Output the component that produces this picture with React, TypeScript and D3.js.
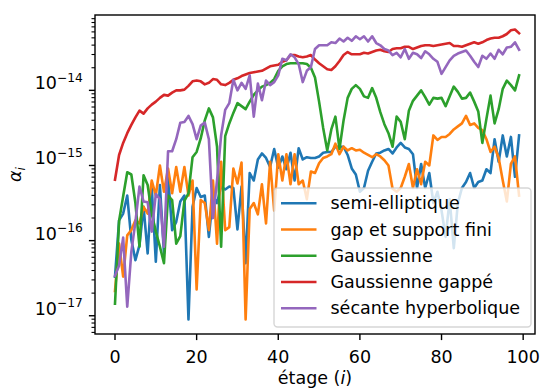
import React from 'react';
import * as d3 from 'd3';

// log10 of alpha_i for each stage i = 0..99
const semiElliptiqueLog10 = [
  -16.48, -15.73, -15.64, -15.40, -15.99, -16.26, -16.06, -15.55, -16.17, -15.29,
  -16.28, -15.26, -16.17, -15.15, -15.86, -15.75, -15.48, -15.40, -17.05, -15.55,
  -15.30, -15.42, -15.40, -15.95, -15.40, -15.50, -15.28, -15.32, -15.28, -15.30,
  -15.85, -15.28, -16.30, -15.10, -15.20, -14.92, -14.84, -14.90, -15.02, -14.78,
  -15.03, -14.88, -15.05, -14.83, -15.20, -14.77, -14.92, -14.89, -14.90, -14.90,
  -14.88, -14.83, -14.82, -14.82, -14.75, -14.75, -14.75, -14.86, -15.04, -15.12,
  -15.35, -15.30, -15.07, -14.95, -14.84, -14.83, -14.80, -14.78, -14.84, -14.76,
  -14.70, -14.76, -14.78, -14.85, -15.30, -14.98, -15.30, -15.10, -15.50, -15.35,
  -15.60, -15.95, -15.45, -16.10, -15.50, -15.30, -15.22, -15.10, -15.30, -15.22,
  -15.20, -15.05, -15.10, -14.65, -14.95, -14.60, -14.88, -14.62, -15.15, -14.60,
];
const gapSupportFiniLog10 = [
  -16.67, -16.04, -16.48, -15.93, -15.86, -15.73, -15.77, -15.55, -15.64, -15.20,
  -15.40, -15.00, -15.35, -15.04, -15.37, -15.02, -15.35, -15.02, -15.40, -15.20,
  -16.65, -15.46, -15.50, -15.86, -15.20, -16.04, -14.95, -15.86, -15.82, -15.04,
  -15.24, -14.96, -17.05, -15.58, -15.50, -15.65, -15.25, -15.77, -14.95, -15.60,
  -14.85, -15.20, -14.85, -15.25, -14.85, -15.25, -15.20, -15.45, -15.08, -15.10,
  -14.97, -14.90, -14.88, -14.85, -14.71, -14.85, -14.75, -14.80, -14.77, -14.80,
  -14.79, -14.83, -14.86, -14.89, -14.85, -14.88, -14.93, -15.00, -15.31, -15.35,
  -15.30, -15.15, -14.98, -15.30, -15.05, -15.25, -14.95, -15.00, -14.60, -14.66,
  -14.62, -14.62, -14.58, -14.52, -14.48, -14.44, -14.34, -14.46, -14.44, -14.50,
  -14.53, -14.65, -14.82, -14.75, -14.90, -15.20, -15.48, -14.98, -14.88, -15.40,
];
const gaussienneLog10 = [
  -16.84, -15.74, -15.41, -15.09, -15.12, -15.50, -16.08, -15.13, -15.26, -15.64,
  -15.88, -16.08, -16.30, -15.40, -15.46, -16.04, -15.94, -15.47, -15.37, -14.89,
  -14.82, -14.64, -14.40, -14.24, -14.36, -14.75, -16.08, -14.61, -14.44, -14.30,
  -14.17, -14.21, -14.25, -14.15, -14.06, -14.00, -13.95, -13.93, -13.90, -13.85,
  -13.74, -13.68, -13.65, -13.64, -13.64, -13.64, -13.64, -13.65, -13.70, -13.83,
  -14.15, -14.50, -14.80, -14.52, -14.35, -14.78, -14.40, -14.10, -13.98, -13.93,
  -13.98, -14.08, -14.10, -13.97, -14.10, -14.29, -14.45, -14.57, -14.75, -14.35,
  -14.42, -14.65, -14.27, -14.14, -14.07, -14.00, -14.09, -14.19, -14.10, -14.11,
  -14.10, -14.21, -14.08, -13.95, -14.02, -14.11, -14.10, -14.03, -14.15, -14.28,
  -14.70, -14.38, -14.07, -14.44, -14.25, -13.98, -13.87, -13.93, -14.00, -13.80,
];
const gaussienneGappeLog10 = [
  -15.19, -14.86, -14.70, -14.57, -14.46, -14.36, -14.27, -14.31, -14.24, -14.19,
  -14.15, -14.10, -14.06, -14.07, -14.03, -14.00, -14.00, -13.99, -13.94, -13.88,
  -13.87, -13.88, -13.92, -13.90, -13.85, -13.86, -13.92, -13.93, -13.90, -13.86,
  -13.84, -13.81, -13.79, -13.77, -13.76, -13.75, -13.74, -13.71, -13.68, -13.67,
  -13.66, -13.62, -13.60, -13.53, -13.53, -13.55, -13.56, -13.55, -13.53, -13.59,
  -13.64, -13.68, -13.72, -13.73, -13.68, -13.61, -13.53, -13.49, -13.52, -13.52,
  -13.52, -13.50, -13.51, -13.49, -13.47, -13.46, -13.48, -13.49, -13.45, -13.44,
  -13.44, -13.42, -13.42, -13.45, -13.43, -13.41, -13.40, -13.40, -13.41, -13.40,
  -13.39, -13.38, -13.37, -13.41, -13.41, -13.42, -13.40, -13.38, -13.36, -13.38,
  -13.36, -13.33, -13.31, -13.30, -13.30, -13.28, -13.25, -13.20, -13.19, -13.24,
];
const secanteHyperboliqueLog10 = [
  -16.47, -16.33, -15.96, -16.88, -16.15, -15.75, -15.28, -15.48, -15.49, -15.88,
  -15.38, -15.45, -16.08, -14.81, -14.81, -14.65, -14.43, -14.42, -14.34, -14.45,
  -14.65, -14.47, -14.43, -14.65, -15.70, -15.20, -14.60, -14.26, -14.17, -13.86,
  -14.00, -13.90, -13.98, -13.80, -14.35, -13.91, -14.13, -13.87, -13.93, -13.89,
  -13.80, -13.58, -13.60, -13.52, -13.56, -13.65, -13.89, -13.74, -13.69, -13.45,
  -13.40, -13.40, -13.40, -13.36, -13.37, -13.31, -13.35, -13.30, -13.34, -13.28,
  -13.32, -13.28, -13.35, -13.28, -13.37, -13.40, -13.45, -13.47, -13.53, -13.50,
  -13.56, -13.45, -13.58, -13.50, -13.52, -13.57, -13.48, -13.52, -13.58, -13.62,
  -13.78, -13.69, -13.60, -13.54, -13.51, -13.49, -13.47, -13.54, -13.62, -13.69,
  -13.54, -13.58, -13.51, -13.58, -13.46, -13.52, -13.43, -13.42, -13.36, -13.46,
];

const seriesLabels = [
  'semi-elliptique',
  'gap et support fini',
  'Gaussienne',
  'Gaussienne gappé',
  'sécante hyperbolique',
];
const seriesColors = ['#1f77b4', '#ff7f0e', '#2ca02c', '#d62728', '#9467bd'];
const seriesLog10 = [
  semiElliptiqueLog10,
  gapSupportFiniLog10,
  gaussienneLog10,
  gaussienneGappeLog10,
  secanteHyperboliqueLog10,
];
const xTicks = [0, 20, 40, 60, 80, 100];
const yTickExponents = [-17, -16, -15, -14];

const W = 541;
const H = 390;
const M = { left: 95, right: 535, top: 15, bottom: 334 };
const FONT = 'DejaVu Sans, sans-serif';
const FS = 17.5;

export default function App() {
  const series = seriesLog10.map((arr) => arr.map((v, i) => ({ i, a: Math.pow(10, v) })));
  const allLog = seriesLog10.flat();
  const lo = d3.min(allLog) as number;
  const hi = d3.max(allLog) as number;
  const pad = (hi - lo) * 0.05;

  const x = d3.scaleLinear().domain([-4.9, 102.9]).range([M.left, M.right]);
  const y = d3
    .scaleLog()
    .domain([Math.pow(10, lo - pad), Math.pow(10, hi + pad)])
    .range([M.bottom, M.top]);

  const line = d3
    .line<{ i: number; a: number }>()
    .x((d) => x(d.i))
    .y((d) => y(d.a));

  const minor: number[] = [];
  for (let e = -18; e <= -13; e++) {
    for (let k = 2; k <= 9; k++) {
      const v = k * Math.pow(10, e);
      const yy = y(v);
      if (yy >= M.top && yy <= M.bottom) minor.push(v);
    }
  }

  // legend layout
  const lgX = 274;
  const lgY = 188;
  const lgW = 257;
  const lgH = 139;
  const rowH = FS * 1.5;
  const row0 = lgY + 15.3;

  return (
    <svg
      width={W}
      height={H}
      style={{ position: 'absolute', left: 0, top: 0, background: '#fff' }}
      fontFamily={FONT}
    >
      <rect x={0} y={0} width={W} height={H} fill="#fff" />
      <defs>
        <clipPath id="plotclip">
          <rect x={M.left} y={M.top} width={M.right - M.left} height={M.bottom - M.top} />
        </clipPath>
      </defs>
      <g clipPath="url(#plotclip)">
        {series.map((s, k) => (
          <path
            key={k}
            d={line(s) as string}
            fill="none"
            stroke={seriesColors[k]}
            strokeWidth={2.6}
            strokeLinejoin="round"
            strokeLinecap="square"
          />
        ))}
      </g>

      {/* x ticks */}
      {xTicks.map((t) => (
        <g key={t}>
          <line x1={x(t)} x2={x(t)} y1={M.bottom} y2={M.bottom + 6.1} stroke="#000" strokeWidth={1.4} />
          <text x={x(t)} y={362.5} textAnchor="middle" fontSize={FS} fill="#000">
            {t}
          </text>
        </g>
      ))}
      <text x={(M.left + M.right) / 2} y={384} textAnchor="middle" fontSize={FS} fill="#000">
        étage (<tspan fontStyle="italic">i</tspan>)
      </text>

      {/* y ticks */}
      {minor.map((v, k) => (
        <line key={k} x1={M.left - 3.5} x2={M.left} y1={y(v)} y2={y(v)} stroke="#000" strokeWidth={1.1} />
      ))}
      {yTickExponents.map((e) => {
        const yy = y(Math.pow(10, e));
        return (
          <g key={e}>
            <line x1={M.left - 6.1} x2={M.left} y1={yy} y2={yy} stroke="#000" strokeWidth={1.4} />
            <text x={82.8} y={yy - 1} textAnchor="end" fontSize={FS} fill="#000">
              10
              <tspan dy={-7.6} fontSize={12.25}>
                {'\u2212' + Math.abs(e)}
              </tspan>
            </text>
          </g>
        );
      })}
      <text
        transform={`translate(21, ${(M.top + M.bottom) / 2}) rotate(-90)`}
        textAnchor="middle"
        fontSize={FS}
        fill="#000"
      >
        <tspan fontStyle="italic">α</tspan>
        <tspan fontStyle="italic" fontSize={12.25} dy={3.5}>
          i
        </tspan>
      </text>

      {/* frame */}
      <rect
        x={M.left}
        y={M.top}
        width={M.right - M.left}
        height={M.bottom - M.top}
        fill="none"
        stroke="#000"
        strokeWidth={1.4}
      />

      {/* legend */}
      <rect
        x={lgX}
        y={lgY}
        width={lgW}
        height={lgH}
        rx={3.5}
        fill="#fff"
        fillOpacity={0.8}
        stroke="#cccccc"
        strokeOpacity={0.8}
        strokeWidth={1.4}
      />
      {seriesLabels.map((lab, k) => {
        const cy = row0 + k * rowH;
        return (
          <g key={lab}>
            <line x1={281} x2={316.5} y1={cy} y2={cy} stroke={seriesColors[k]} strokeWidth={2.6} />
            <text x={330.5} y={cy + 6} fontSize={FS} fill="#000">
              {lab}
            </text>
          </g>
        );
      })}
    </svg>
  );
}
